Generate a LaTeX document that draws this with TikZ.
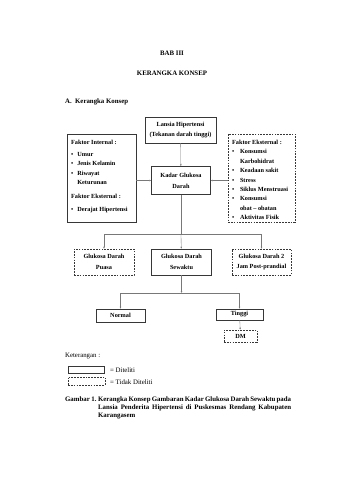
\documentclass[tikz,border=0pt]{standalone}
\usepackage{fontspec}
\setmainfont{Liberation Serif}
\usepackage{tikz}
\usetikzlibrary{arrows.meta}
\definecolor{lineGray}{RGB}{120,120,120}
\definecolor{boxGray}{RGB}{55,55,55}
\newdimen\pxu \pxu=1.756pt

\begin{document}
\begin{tikzpicture}[x=1.756pt, y=-1.756pt,
    box/.style={draw=boxGray, line width=0.8pt, inner sep=0pt, align=center,
      font=\fontsize{11}{19}\selectfont\bfseries},
    dashbox/.style={box, densely dashed},
    flow/.style={draw=lineGray, line width=0.6pt, -{Latex[length=3.5pt,width=3pt]}},
    link/.style={draw=lineGray, line width=0.6pt},
    plain/.style={inner sep=0pt, font=\fontsize{12}{14}\selectfont}]
  \useasboundingbox (0,0) rectangle (339,480);
  % judul
  \node[plain, font=\fontsize{12}{14}\selectfont\bfseries, anchor=base] (bab) at (172,55) {BAB III};
  \node[plain, font=\fontsize{12}{14}\selectfont\bfseries, anchor=base] (judul) at (172,75.5) {KERANGKA KONSEP};
  \node[plain, font=\fontsize{12}{14}\selectfont\bfseries, anchor=base west] (subjudul) at (65,103.5) {A.\ \ Kerangka Konsep};

  % kotak
  \node[box, minimum width=71\pxu, minimum height=26\pxu] (lansia) at (180.5,130)
    {Lansia Hipertensi\\(Tekanan darah tinggi)};
  \node[box, minimum width=69\pxu, minimum height=88\pxu] (internal) at (101.5,178) {};
  \node[dashbox, minimum width=67\pxu, minimum height=88\pxu] (eksternal) at (261.5,178) {};
  \node[box, minimum width=59\pxu, minimum height=28\pxu] (kadar) at (181,180.5)
    {Kadar Glukosa\\Darah};
  \node[dashbox, minimum width=60\pxu, minimum height=26\pxu] (puasa) at (104,262)
    {Glukosa Darah\\Puasa};
  \node[box, minimum width=60\pxu, minimum height=26\pxu] (sewaktu) at (181.5,262)
    {Glukosa Darah\\Sewaktu};
  \node[dashbox, minimum width=59\pxu, minimum height=26\pxu] (postprandial) at (261.5,262)
    {Glukosa Darah 2\\Jam Post-prandial};
  \node[box, minimum width=49\pxu, minimum height=13\pxu] (normal) at (120.5,315.5) {Normal};
  \node[box, minimum width=47\pxu, minimum height=11\pxu] (tinggi) at (239.5,314.5) {Tinggi};
  \node[dashbox, minimum width=33\pxu, minimum height=12\pxu] (dm) at (240.5,336) {DM};

  % isi faktor
  \node[inner sep=0pt, anchor=base west, font=\fontsize{11}{16.5}\selectfont\bfseries] (listInternal) at (71,144.5)
    {\begin{tabular}[t]{@{}l@{\hspace{7pt}}l@{}}
      \multicolumn{2}{@{}l@{}}{Faktor Internal :}\\[4.5pt]
      \textbullet & Umur\\
      \textbullet & Jenis Kelamin\\
      \textbullet & Riwayat\\
                  & Keturunan\\[8pt]
      \multicolumn{2}{@{}l@{}}{Faktor Eksternal :}\\[6pt]
      \textbullet & Derajat Hipertensi
    \end{tabular}};
  \node[inner sep=0pt, anchor=base west, font=\fontsize{11}{16.5}\selectfont\bfseries] (listEksternal) at (232,144.5)
    {\begin{tabular}[t]{@{}l@{\hspace{10pt}}l@{}}
      \multicolumn{2}{@{}l@{}}{Faktor Eksternal :}\\
      \textbullet & Konsumsi\\
                  & Karbohidrat\\
      \textbullet & Keadaan sakit\\
      \textbullet & Stress\\
      \textbullet & Siklus Menstruasi\\
      \textbullet & Konsumsi\\
                  & obat -- obatan\\
      \textbullet & Aktivitas Fisik
    \end{tabular}};

  % panah
  \coordinate (split) at (181,234);
  \coordinate (splitL) at (104,234);
  \coordinate (splitR) at (261.5,234);
  \coordinate (split2) at (181.5,293);
  \coordinate (split2L) at (120.5,293);
  \coordinate (split2R) at (239.5,293);
  \draw[flow] (lansia) -- (kadar);
  \draw[flow] (internal.east |- kadar) -- (kadar);
  \draw[flow] (eksternal.west |- kadar) -- (kadar);
  \draw[link] (kadar) -- (split);
  \draw[flow] (split) -- (sewaktu);
  \draw[link] (splitL) -- (splitR);
  \draw[flow] (splitL) -- (puasa);
  \draw[flow] (splitR) -- (postprandial);
  \draw[flow] (sewaktu) -- (split2);
  \draw[link] (split2L) -- (split2R);
  \draw[flow] (split2L) -- (normal);
  \draw[flow] (split2R) -- (tinggi);
  \draw[flow] (tinggi) -- (dm);

  % keterangan
  \node[plain, anchor=base west] (ket) at (65,357.5) {Keterangan :};
  \node[box, minimum width=36\pxu, minimum height=7\pxu] (legBox) at (86,369.5) {};
  \node[dashbox, minimum width=37\pxu, minimum height=8\pxu] (legDash) at (86.5,381) {};
  \node[plain, anchor=base west] (legText) at (110,372) {= Diteliti};
  \node[plain, anchor=base west] (legDashText) at (110,384.5) {= Tidak Diteliti};

  % keterangan gambar
  \node[plain, font=\fontsize{12}{14}\selectfont\bfseries, anchor=north west] (caption) at (65,396.5)
    {\makebox[33\pxu][l]{Gambar 1.}\parbox[t]{193\pxu}{%
     \spaceskip=0.25em plus 1em minus 0.12em\relax
     \hbox to 193\pxu{Kerangka Konsep Gambaran Kadar Glukosa Darah Sewaktu pada}
     \hbox to 193\pxu{Lansia Penderita Hipertensi di Puskesmas Rendang Kabupaten}
     \noindent Karangasem}};
\end{tikzpicture}
\end{document}
